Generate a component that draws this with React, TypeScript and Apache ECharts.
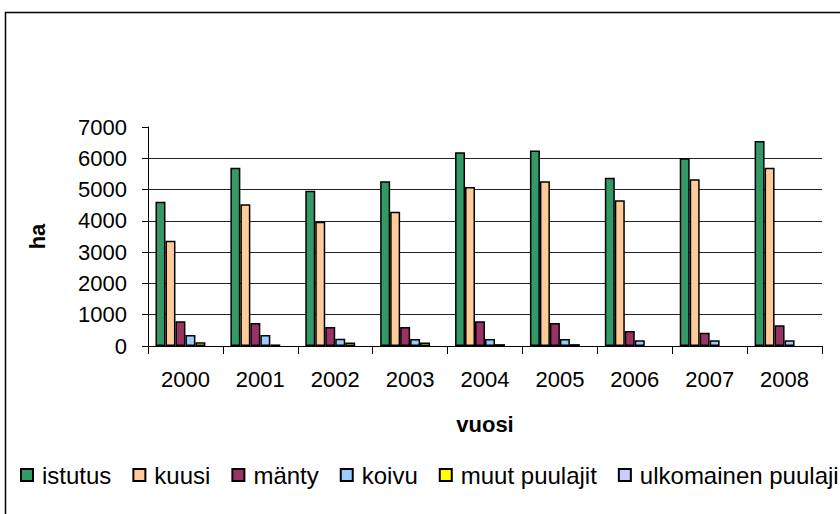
import React, { useEffect, useRef } from "react";
import * as echarts from "echarts";

const years = ["2000", "2001", "2002", "2003", "2004", "2005", "2006", "2007", "2008"];
const seriesNames = ["istutus", "kuusi", "mänty", "koivu", "muut puulajit", "ulkomainen puulaji"];
const istutus = [4610, 5700, 4965, 5265, 6190, 6245, 5380, 6000, 6555];
const kuusi = [3365, 4530, 3975, 4290, 5080, 5265, 4655, 5330, 5700];
const manty = [790, 735, 605, 605, 790, 735, 480, 425, 660];
const koivu = [350, 350, 235, 225, 225, 225, 180, 180, 180];
const muut = [120, 50, 110, 110, 60, 60, 0, 0, 0];
const ulkomainen = [0, 0, 0, 0, 0, 0, 0, 0, 0];
const seriesValues = [istutus, kuusi, manty, koivu, muut, ulkomainen];
const colors = ["#339966", "#FFCC99", "#993366", "#99CCFF", "#FFFF00", "#CCCCFF"];
const yTicks = [0, 1000, 2000, 3000, 4000, 5000, 6000, 7000];

const FONT = "'Liberation Sans', Arial, sans-serif";

export default function App() {
  const ref = useRef<HTMLDivElement>(null);
  useEffect(() => {
    if (!ref.current) return;
    const chart = echarts.init(ref.current, null, { renderer: "svg" });
    chart.setOption({
      animation: false,
      backgroundColor: "#ffffff",
      textStyle: { fontFamily: FONT, color: "#000" },
      grid: { left: 148, right: 18, top: 127, bottom: 168, containLabel: false },
      legend: {
        left: 20,
        top: 463,
        padding: 0,
        itemGap: 21,
        itemWidth: 12,
        itemHeight: 12,
        icon: "rect",
        data: seriesNames,
        textStyle: { fontFamily: FONT, fontSize: 24, color: "#000", padding: [0, 0, 0, 4] },
      },
      xAxis: {
        type: "category",
        data: years,
        name: "vuosi",
        nameLocation: "middle",
        nameGap: 67,
        nameTextStyle: { fontFamily: FONT, fontSize: 22, fontWeight: "bold", color: "#000" },
        axisLine: { lineStyle: { color: "#000", width: 1 } },
        axisTick: { show: true, length: 8, lineStyle: { color: "#000" } },
        axisLabel: { fontFamily: FONT, fontSize: 22, color: "#000", margin: 22 },
        splitLine: { show: false },
      },
      yAxis: {
        type: "value",
        min: yTicks[0],
        max: yTicks[yTicks.length - 1],
        interval: 1000,
        name: "ha",
        nameLocation: "middle",
        nameRotate: 90,
        nameGap: 100,
        nameTextStyle: { fontFamily: FONT, fontSize: 22, fontWeight: "bold", color: "#000" },
        axisLine: { show: true, lineStyle: { color: "#000", width: 1 } },
        axisTick: { show: true, length: 6, lineStyle: { color: "#000" } },
        axisLabel: {
          fontFamily: FONT,
          fontSize: 22,
          color: "#000",
          margin: 21,
          formatter: (v: number) => String(v),
        },
        splitLine: {
          show: true,
          showMaxLine: false,
          lineStyle: { color: "#222", width: 1 },
        },
      },
      series: seriesNames.map((name, i) => ({
        name,
        type: "bar",
        data: seriesValues[i].map((v) =>
          v === 0 ? { value: v, itemStyle: { borderWidth: 0, opacity: 0 } } : v
        ),
        barGap: "0%",
        barCategoryGap: "20%",
        itemStyle: { color: colors[i], borderColor: "#000", borderWidth: 1.5 },
      })),
      graphic: [
        {
          type: "rect",
          shape: { x: 5.5, y: 12.5, width: 900, height: 600 },
          style: { fill: "none", stroke: "#000", lineWidth: 1.5 },
          silent: true,
        },
      ],
    });
    return () => chart.dispose();
  }, []);
  return (
    <div
      ref={ref}
      style={{ position: "fixed", left: 0, top: 0, width: 840, height: 514 }}
    />
  );
}
